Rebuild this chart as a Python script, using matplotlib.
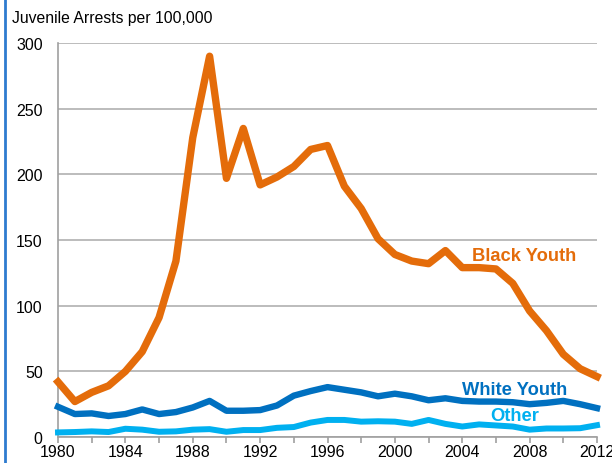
import matplotlib.pyplot as plt
import matplotlib.lines as mlines

plt.rcParams['font.family'] = ['Liberation Sans', 'DejaVu Sans']

years = list(range(1980, 2013))

black_youth = [42, 27, 34, 39, 50, 65, 91, 134, 228, 290,
               197, 235, 192, 198, 206, 219, 222, 191, 174, 151,
               139, 134, 132, 142, 129, 129, 128, 117, 96, 81,
               63, 52, 46]
white_youth = [23, 17.5, 18, 16, 17.5, 21, 17.5, 19, 22.5, 27.5,
               20, 20, 20.5, 24, 31.5, 35, 38, 36, 34, 31,
               33, 31, 28, 29.5, 27.5, 27, 27, 26.5, 25, 26,
               27.5, 25, 22]
other = [3.5, 3.8, 4.3, 3.8, 6.3, 5.6, 4, 4.3, 5.6, 6,
         4, 5.3, 5.3, 7, 7.6, 11, 13, 13, 11.7, 12,
         11.7, 10, 13, 10, 8, 9.6, 8.8, 8, 5.6, 6.5,
         6.5, 6.7, 9]

orange = '#E46C0A'
dark_blue = '#0070C0'
light_blue = '#00B0F0'

fig = plt.figure(figsize=(6.12, 4.64), dpi=100)
ax = fig.add_axes([0.0948, 0.056, 0.8807, 0.849])

ax.plot(years, other, color=light_blue, lw=4.3, solid_joinstyle='round', clip_on=False, zorder=3)
ax.plot(years, white_youth, color=dark_blue, lw=4.6, solid_joinstyle='round', clip_on=False, zorder=4)
ax.plot(years, black_youth, color=orange, lw=5.3, solid_joinstyle='round', clip_on=False, zorder=5)

ax.set_xlim(1980, 2012)
ax.set_ylim(0, 300)
ax.set_yticks(range(0, 301, 50))
ax.set_xticks(range(1980, 2013, 4))
ax.set_xticks(range(1980, 2013, 2), minor=True)
ax.yaxis.grid(True, color='#B0B0B0', lw=1.2)
ax.set_axisbelow(True)
for s in ['top', 'right']:
    ax.spines[s].set_visible(False)
for s in ['left', 'bottom']:
    ax.spines[s].set_color('#A0A0A0')
    ax.spines[s].set_linewidth(1.2)
ax.tick_params(axis='y', length=0, labelsize=11.5, pad=11)
ax.tick_params(axis='x', which='both', length=4, color='#A0A0A0', width=1.2,
               labelsize=11.5, pad=1)

ax.text(2007.7, 138, 'Black Youth', color=orange, fontsize=13.2, fontweight='bold',
        ha='center', va='center')
ax.text(2007.1, 36.5, 'White Youth', color=dark_blue, fontsize=13.2, fontweight='bold',
        ha='center', va='center')
ax.text(2007.1, 16.5, 'Other', color=light_blue, fontsize=13.2, fontweight='bold',
        ha='center', va='center')

fig.text(0.02, 0.96, 'Juvenile Arrests per 100,000', fontsize=11.3, ha='left', va='center')

fig.add_artist(mlines.Line2D([0.008, 0.008], [0, 1], color='#2E7BCF', lw=2,
                             transform=fig.transFigure))

fig.savefig('out.png', dpi=100)
